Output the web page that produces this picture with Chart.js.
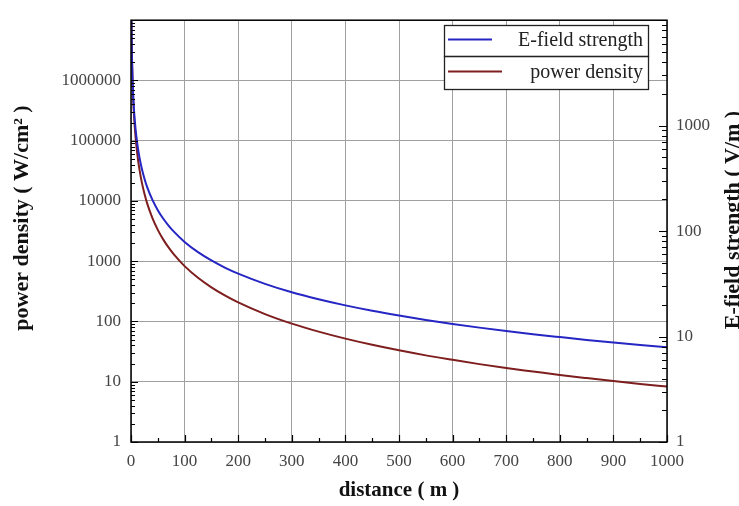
<!DOCTYPE html>
<html>
<head>
<meta charset="utf-8">
<script src="https://cdn.jsdelivr.net/npm/chart.js@4.4.1/dist/chart.umd.min.js"></script>
<style>
  html, body { margin: 0; padding: 0; background: #fff; }
  #wrap { width: 739px; height: 506px; }
</style>
</head>
<body>
<div id="wrap"><canvas id="fieldChart"></canvas></div>
<script>
// distance (m) and values
var distance     = [0.8, 1, 1.5, 2, 3, 4, 5, 7, 10, 13, 16, 20, 25, 30, 40, 50, 60, 70, 80, 100, 125, 150, 175, 200, 250, 300, 350, 400, 450, 500, 550, 600, 650, 700, 750, 800, 850, 900, 950, 1000];
var powerDensity = [1.3e7, 8.3e6, 3.69e6, 2.08e6, 9.22e5, 5.19e5, 3.32e5, 1.69e5, 8.3e4, 4.91e4, 3.24e4, 20750, 13280, 9220, 5190, 3320, 2306, 1694, 1297, 830, 531, 369, 271, 207.5, 132.8, 92.2, 67.8, 51.9, 41.0, 33.2, 27.4, 23.1, 19.6, 16.9, 14.8, 12.97, 11.5, 10.25, 9.2, 8.3];
var eField       = [9875, 7900, 5267, 3950, 2633, 1975, 1580, 1129, 790, 608, 494, 395, 316, 263, 197.5, 158, 131.7, 112.9, 98.8, 79, 63.2, 52.7, 45.1, 39.5, 31.6, 26.3, 22.6, 19.75, 17.55, 15.8, 14.36, 13.17, 12.15, 11.29, 10.53, 9.88, 9.29, 8.78, 8.32, 7.9];

var leftDecades  = [1, 10, 100, 1000, 10000, 100000, 1000000, 10000000];
var rightDecades = [1, 10, 100, 1000, 10000];
var seriesNames  = ['E-field strength', 'power density'];

var serif = '"Liberation Serif", "Times New Roman", serif';
var blue = '#2626c4';
var red = '#7e1e1e';

function points(ys) {
    return distance.map(function(d, i) { return { x: d, y: ys[i] }; });
}

function minorValues(decades) {
    var out = [];
    decades.forEach(function(d, i) {
        if (i === decades.length - 1) return;
        for (var k = 2; k <= 9; k++) out.push(d * k);
    });
    return out;
}

// inward ticks, frame, titles and legend
var decorations = {
    id: 'decorations',
    afterDraw: function(chart) {
        var ctx = chart.ctx, a = chart.chartArea;
        var sx = chart.scales.x, sy = chart.scales.y, sy1 = chart.scales.y1;
        ctx.save();
        ctx.strokeStyle = '#000';
        ctx.lineWidth = 1.2;
        ctx.beginPath();
        leftDecades.forEach(function(v) {
            var p = Math.round(sy.getPixelForValue(v)) + 0.5;
            ctx.moveTo(a.left, p); ctx.lineTo(a.left + 7, p);
        });
        minorValues(leftDecades).forEach(function(v) {
            var p = Math.round(sy.getPixelForValue(v)) + 0.5;
            ctx.moveTo(a.left, p); ctx.lineTo(a.left + 4, p);
        });
        rightDecades.forEach(function(v) {
            var p = Math.round(sy1.getPixelForValue(v)) + 0.5;
            ctx.moveTo(a.right, p); ctx.lineTo(a.right - 8, p);
        });
        minorValues(rightDecades).forEach(function(v) {
            var p = Math.round(sy1.getPixelForValue(v)) + 0.5;
            ctx.moveTo(a.right, p); ctx.lineTo(a.right - 5, p);
        });
        for (var v = 0; v <= 1000; v += 50) {
            var px = Math.round(sx.getPixelForValue(v)) + 0.5;
            ctx.moveTo(px, a.bottom); ctx.lineTo(px, a.bottom - (v % 100 === 0 ? 7 : 4));
        }
        ctx.stroke();

        ctx.lineWidth = 1.5;
        ctx.strokeRect(a.left, a.top, a.right - a.left, a.bottom - a.top);

        // axis titles
        ctx.fillStyle = '#111';
        ctx.font = 'bold 21px ' + serif;
        ctx.textAlign = 'center';
        ctx.textBaseline = 'middle';
        ctx.fillText('distance ( m )', (a.left + a.right) / 2, 491);

        ctx.font = 'bold 22px ' + serif;
        ctx.save();
        ctx.translate(22, 218);
        ctx.rotate(-Math.PI / 2);
        ctx.fillText('power density ( W/cm\u00b2 )', 0, 0);
        ctx.restore();

        ctx.save();
        ctx.translate(733, 220);
        ctx.rotate(-Math.PI / 2);
        ctx.fillText('E-field strength ( V/m )', 0, 0);
        ctx.restore();

        // legend
        var lx = 444, lw = 204, rows = [[25, 56], [56, 89]], colors = [blue, red];
        ctx.fillStyle = '#fff';
        ctx.fillRect(lx, rows[0][0], lw, rows[1][1] - rows[0][0]);
        rows.forEach(function(r, i) {
            ctx.strokeStyle = '#222';
            ctx.lineWidth = 1.3;
            ctx.strokeRect(lx + 0.5, r[0] + 0.5, lw, r[1] - r[0]);
            var my = (r[0] + r[1]) / 2;
            ctx.beginPath();
            ctx.strokeStyle = colors[i];
            ctx.lineWidth = 2;
            ctx.moveTo(448, my - 1); ctx.lineTo(i === 0 ? 492 : 502, my - 1);
            ctx.stroke();
            ctx.fillStyle = '#222';
            ctx.font = '20px ' + serif;
            ctx.textAlign = 'right';
            ctx.textBaseline = 'middle';
            ctx.fillText(seriesNames[i], 643, my);
        });
        ctx.restore();
    }
};

var tickFont = { family: serif, size: 17 };

// skip the label at the top of each log axis, as in the picture
function decadeLabel(top) {
    return function(v) { return v >= top ? '' : String(v); };
}

var ctx = document.getElementById('fieldChart').getContext('2d');
var fieldChart = new Chart(ctx, {
    type: 'line',
    data: {
        datasets: [{
            label: seriesNames[0],
            data: points(eField),
            yAxisID: 'y1',
            borderColor: blue,
            borderWidth: 2,
            pointRadius: 0,
            cubicInterpolationMode: 'monotone'
        }, {
            label: seriesNames[1],
            data: points(powerDensity),
            yAxisID: 'y',
            borderColor: red,
            borderWidth: 2,
            pointRadius: 0,
            cubicInterpolationMode: 'monotone'
        }]
    },
    options: {
        responsive: true,
        maintainAspectRatio: false,
        animation: false,
        layout: { padding: { top: 11, left: 0, right: 0, bottom: 0 } },
        plugins: {
            legend: { display: false },
            tooltip: { enabled: false }
        },
        scales: {
            x: {
                type: 'linear',
                min: 0,
                max: 1000,
                afterFit: function(s) { s.height = 64; },
                ticks: { stepSize: 100, font: tickFont, color: '#444', padding: 9, maxRotation: 0,
                         callback: function(v) { return String(v); } },
                grid: { color: '#a0a0a0', lineWidth: 1, drawTicks: false },
                border: { display: false }
            },
            y: {
                type: 'logarithmic',
                position: 'left',
                min: 1,
                max: 10000000,
                afterFit: function(s) { s.width = 131; },
                afterBuildTicks: function(s) { s.ticks = leftDecades.map(function(v) { return { value: v }; }); },
                ticks: { font: tickFont, color: '#444', padding: 10, callback: decadeLabel(10000000) },
                grid: { color: '#a0a0a0', lineWidth: 1, drawTicks: false },
                border: { display: false }
            },
            y1: {
                type: 'logarithmic',
                position: 'right',
                min: 1,
                max: 10000,
                afterFit: function(s) { s.width = 72; },
                afterBuildTicks: function(s) { s.ticks = rightDecades.map(function(v) { return { value: v }; }); },
                ticks: { font: tickFont, color: '#444', padding: 9, callback: decadeLabel(10000) },
                grid: { display: false, drawTicks: false },
                border: { display: false }
            }
        }
    },
    plugins: [decorations]
});
</script>
</body>
</html>
